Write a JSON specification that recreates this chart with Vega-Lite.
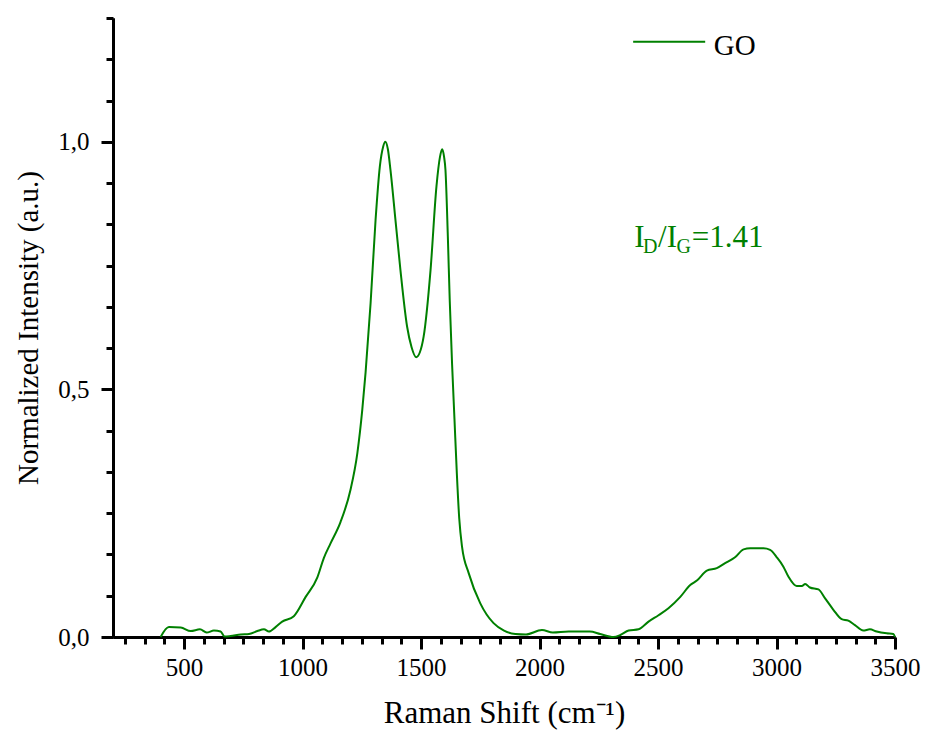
{
  "$schema": "https://vega.github.io/schema/vega-lite/v6.json",
  "width": 782,
  "height": 619,
  "autosize": {"type": "none"},
  "padding": {"left": 113, "top": 18, "right": 30, "bottom": 93},
  "background": "white",
  "config": {
    "view": {"stroke": null},
    "font": "Liberation Serif",
    "axis": {
      "grid": false,
      "domainColor": "black",
      "domainWidth": 3,
      "tickColor": "black",
      "tickWidth": 3,
      "labelFont": "Liberation Serif",
      "labelColor": "black",
      "labelFontSize": 25,
      "titleFont": "Liberation Serif",
      "titleFontWeight": "normal",
      "titleColor": "black",
      "titleFontSize": 29
    }
  },
  "resolve": {"axis": {"x": "independent", "y": "independent"}},
  "datasets": {
    "spectrum": [
      {"shift": 401, "intensity": 0.0, "series": "GO"},
      {"shift": 436, "intensity": 0.020, "series": "GO"},
      {"shift": 486, "intensity": 0.019, "series": "GO"},
      {"shift": 528, "intensity": 0.012, "series": "GO"},
      {"shift": 567, "intensity": 0.0155, "series": "GO"},
      {"shift": 595, "intensity": 0.009, "series": "GO"},
      {"shift": 626, "intensity": 0.013, "series": "GO"},
      {"shift": 654, "intensity": 0.011, "series": "GO"},
      {"shift": 671, "intensity": 0.001, "series": "GO"},
      {"shift": 696, "intensity": 0.002, "series": "GO"},
      {"shift": 739, "intensity": 0.005, "series": "GO"},
      {"shift": 774, "intensity": 0.006, "series": "GO"},
      {"shift": 809, "intensity": 0.012, "series": "GO"},
      {"shift": 837, "intensity": 0.0155, "series": "GO"},
      {"shift": 858, "intensity": 0.011, "series": "GO"},
      {"shift": 886, "intensity": 0.020, "series": "GO"},
      {"shift": 914, "intensity": 0.031, "series": "GO"},
      {"shift": 963, "intensity": 0.042, "series": "GO"},
      {"shift": 1013, "intensity": 0.081, "series": "GO"},
      {"shift": 1062, "intensity": 0.120, "series": "GO"},
      {"shift": 1090, "intensity": 0.160, "series": "GO"},
      {"shift": 1118, "intensity": 0.189, "series": "GO"},
      {"shift": 1160, "intensity": 0.232, "series": "GO"},
      {"shift": 1202, "intensity": 0.297, "series": "GO"},
      {"shift": 1231, "intensity": 0.371, "series": "GO"},
      {"shift": 1252, "intensity": 0.459, "series": "GO"},
      {"shift": 1266, "intensity": 0.535, "series": "GO"},
      {"shift": 1287, "intensity": 0.674, "series": "GO"},
      {"shift": 1308, "intensity": 0.842, "series": "GO"},
      {"shift": 1326, "intensity": 0.950, "series": "GO"},
      {"shift": 1340, "intensity": 0.990, "series": "GO"},
      {"shift": 1349, "intensity": 1.0, "series": "GO"},
      {"shift": 1360, "intensity": 0.985, "series": "GO"},
      {"shift": 1371, "intensity": 0.943, "series": "GO"},
      {"shift": 1392, "intensity": 0.842, "series": "GO"},
      {"shift": 1413, "intensity": 0.741, "series": "GO"},
      {"shift": 1441, "intensity": 0.627, "series": "GO"},
      {"shift": 1460, "intensity": 0.585, "series": "GO"},
      {"shift": 1479, "intensity": 0.565, "series": "GO"},
      {"shift": 1495, "intensity": 0.575, "series": "GO"},
      {"shift": 1511, "intensity": 0.607, "series": "GO"},
      {"shift": 1540, "intensity": 0.741, "series": "GO"},
      {"shift": 1565, "intensity": 0.910, "series": "GO"},
      {"shift": 1580, "intensity": 0.970, "series": "GO"},
      {"shift": 1589, "intensity": 0.985, "series": "GO"},
      {"shift": 1597, "intensity": 0.970, "series": "GO"},
      {"shift": 1603, "intensity": 0.943, "series": "GO"},
      {"shift": 1613, "intensity": 0.809, "series": "GO"},
      {"shift": 1621, "intensity": 0.680, "series": "GO"},
      {"shift": 1631, "intensity": 0.550, "series": "GO"},
      {"shift": 1641, "intensity": 0.440, "series": "GO"},
      {"shift": 1651, "intensity": 0.330, "series": "GO"},
      {"shift": 1661, "intensity": 0.240, "series": "GO"},
      {"shift": 1673, "intensity": 0.182, "series": "GO"},
      {"shift": 1701, "intensity": 0.129, "series": "GO"},
      {"shift": 1750, "intensity": 0.068, "series": "GO"},
      {"shift": 1806, "intensity": 0.028, "series": "GO"},
      {"shift": 1850, "intensity": 0.013, "series": "GO"},
      {"shift": 1898, "intensity": 0.006, "series": "GO"},
      {"shift": 1943, "intensity": 0.005, "series": "GO"},
      {"shift": 2010, "intensity": 0.014, "series": "GO"},
      {"shift": 2056, "intensity": 0.009, "series": "GO"},
      {"shift": 2123, "intensity": 0.011, "series": "GO"},
      {"shift": 2212, "intensity": 0.011, "series": "GO"},
      {"shift": 2256, "intensity": 0.006, "series": "GO"},
      {"shift": 2312, "intensity": 0.0, "series": "GO"},
      {"shift": 2341, "intensity": 0.004, "series": "GO"},
      {"shift": 2376, "intensity": 0.013, "series": "GO"},
      {"shift": 2418, "intensity": 0.0155, "series": "GO"},
      {"shift": 2460, "intensity": 0.031, "series": "GO"},
      {"shift": 2502, "intensity": 0.044, "series": "GO"},
      {"shift": 2544, "intensity": 0.058, "series": "GO"},
      {"shift": 2594, "intensity": 0.081, "series": "GO"},
      {"shift": 2636, "intensity": 0.105, "series": "GO"},
      {"shift": 2664, "intensity": 0.114, "series": "GO"},
      {"shift": 2706, "intensity": 0.134, "series": "GO"},
      {"shift": 2748, "intensity": 0.139, "series": "GO"},
      {"shift": 2783, "intensity": 0.149, "series": "GO"},
      {"shift": 2825, "intensity": 0.161, "series": "GO"},
      {"shift": 2861, "intensity": 0.177, "series": "GO"},
      {"shift": 2889, "intensity": 0.179, "series": "GO"},
      {"shift": 2945, "intensity": 0.179, "series": "GO"},
      {"shift": 2973, "intensity": 0.176, "series": "GO"},
      {"shift": 3001, "intensity": 0.161, "series": "GO"},
      {"shift": 3029, "intensity": 0.142, "series": "GO"},
      {"shift": 3050, "intensity": 0.122, "series": "GO"},
      {"shift": 3085, "intensity": 0.103, "series": "GO"},
      {"shift": 3107, "intensity": 0.103, "series": "GO"},
      {"shift": 3121, "intensity": 0.107, "series": "GO"},
      {"shift": 3141, "intensity": 0.100, "series": "GO"},
      {"shift": 3177, "intensity": 0.096, "series": "GO"},
      {"shift": 3205, "intensity": 0.078, "series": "GO"},
      {"shift": 3240, "intensity": 0.055, "series": "GO"},
      {"shift": 3275, "intensity": 0.036, "series": "GO"},
      {"shift": 3303, "intensity": 0.033, "series": "GO"},
      {"shift": 3331, "intensity": 0.024, "series": "GO"},
      {"shift": 3366, "intensity": 0.013, "series": "GO"},
      {"shift": 3394, "intensity": 0.0155, "series": "GO"},
      {"shift": 3423, "intensity": 0.011, "series": "GO"},
      {"shift": 3465, "intensity": 0.0074, "series": "GO"},
      {"shift": 3493, "intensity": 0.006, "series": "GO"},
      {"shift": 3500, "intensity": 0.0, "series": "GO"}
    ]
  },
  "layer": [
    {
      "data": {"name": "spectrum"},
      "mark": {"type": "line", "strokeOpacity": 0},
      "encoding": {
        "x": {
          "field": "shift",
          "type": "quantitative",
          "scale": {"domain": [200, 3500], "nice": false, "zero": false},
          "axis": {
            "orient": "bottom",
            "title": null,
            "values": [250, 333.3333, 416.6667, 583.3333, 666.6667, 750, 833.3333, 916.6667, 1083.3333, 1166.6667, 1250, 1333.3333, 1416.6667, 1583.3333, 1666.6667, 1750, 1833.3333, 1916.6667, 2083.3333, 2166.6667, 2250, 2333.3333, 2416.6667, 2583.3333, 2666.6667, 2750, 2833.3333, 2916.6667, 3083.3333, 3166.6667, 3250, 3333.3333, 3416.6667],
            "labels": false,
            "tickSize": 7,
            "domain": true
          }
        },
        "y": {
          "field": "intensity",
          "type": "quantitative",
          "scale": {"domain": [0, 1.25], "nice": false},
          "axis": {
            "orient": "left",
            "title": null,
            "values": [0.0833333, 0.1666667, 0.25, 0.3333333, 0.4166667, 0.5833333, 0.6666667, 0.75, 0.8333333, 0.9166667, 1.0833333, 1.1666667, 1.25],
            "labels": false,
            "tickSize": 7,
            "domain": true
          }
        }
      }
    },
    {
      "data": {"name": "spectrum"},
      "mark": {"type": "line", "strokeWidth": 2, "interpolate": "monotone"},
      "encoding": {
        "x": {
          "field": "shift",
          "type": "quantitative",
          "scale": {"domain": [200, 3500], "nice": false, "zero": false},
          "axis": {
            "orient": "bottom",
            "title": "Raman Shift (cm⁻¹)",
            "titleFontSize": 31,
            "values": [500, 1000, 1500, 2000, 2500, 3000, 3500],
            "format": "d",
            "tickSize": 12,
            "labelPadding": 6,
            "labelFlush": false,
            "labelOverlap": false,
            "titlePadding": 18
          }
        },
        "y": {
          "field": "intensity",
          "type": "quantitative",
          "scale": {"domain": [0, 1.25], "nice": false},
          "axis": {
            "orient": "left",
            "title": "Normalized Intensity (a.u.)",
            "values": [0, 0.5, 1],
            "labelExpr": "replace(format(datum.value, '.1f'), '.', ',')",
            "tickSize": 12,
            "labelPadding": 12,
            "labelFlush": false,
            "labelOverlap": false,
            "titlePadding": 14
          }
        },
        "color": {
          "field": "series",
          "type": "nominal",
          "scale": {"domain": ["GO"], "range": ["#008000"]},
          "legend": null
        }
      }
    },
    {
      "data": {"values": [{}]},
      "mark": {"type": "rule", "color": "#008000", "strokeWidth": 2},
      "encoding": {"x": {"datum": 2395, "type": "quantitative", "axis": null}, "x2": {"datum": 2699}, "y": {"datum": 1.202, "type": "quantitative", "axis": null}}
    },
    {
      "data": {"values": [{}]},
      "mark": {"type": "text", "text": "GO", "font": "Liberation Serif", "fontSize": 29, "color": "black", "align": "left", "baseline": "alphabetic"},
      "encoding": {"x": {"datum": 2735, "type": "quantitative", "axis": null}, "y": {"datum": 1.176, "type": "quantitative", "axis": null}}
    },
    {
      "data": {"values": [{}]},
      "mark": {"type": "text", "text": "I", "font": "Liberation Serif", "fontSize": 31, "color": "#008000", "align": "left", "baseline": "alphabetic"},
      "encoding": {"x": {"datum": 2400, "type": "quantitative", "axis": null}, "y": {"datum": 0.7885, "type": "quantitative", "axis": null}}
    },
    {
      "data": {"values": [{}]},
      "mark": {"type": "text", "text": "D", "font": "Liberation Serif", "fontSize": 20, "color": "#008000", "align": "left", "baseline": "alphabetic"},
      "encoding": {"x": {"datum": 2437, "type": "quantitative", "axis": null}, "y": {"datum": 0.776, "type": "quantitative", "axis": null}}
    },
    {
      "data": {"values": [{}]},
      "mark": {"type": "text", "text": "/I", "font": "Liberation Serif", "fontSize": 31, "color": "#008000", "align": "left", "baseline": "alphabetic"},
      "encoding": {"x": {"datum": 2500, "type": "quantitative", "axis": null}, "y": {"datum": 0.7885, "type": "quantitative", "axis": null}}
    },
    {
      "data": {"values": [{}]},
      "mark": {"type": "text", "text": "G", "font": "Liberation Serif", "fontSize": 20, "color": "#008000", "align": "left", "baseline": "alphabetic"},
      "encoding": {"x": {"datum": 2578, "type": "quantitative", "axis": null}, "y": {"datum": 0.776, "type": "quantitative", "axis": null}}
    },
    {
      "data": {"values": [{}]},
      "mark": {"type": "text", "text": "=1.41", "font": "Liberation Serif", "fontSize": 31, "color": "#008000", "align": "left", "baseline": "alphabetic"},
      "encoding": {"x": {"datum": 2642, "type": "quantitative", "axis": null}, "y": {"datum": 0.7885, "type": "quantitative", "axis": null}}
    }
  ]
}
